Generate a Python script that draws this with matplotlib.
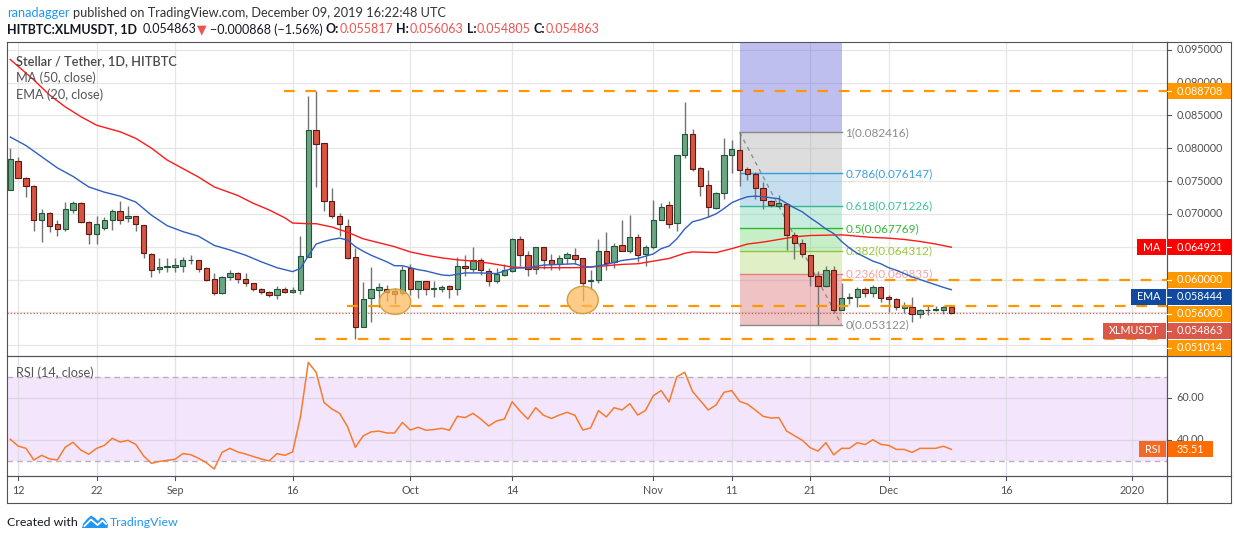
import numpy as np
import matplotlib
matplotlib.use("Agg")
import matplotlib.pyplot as plt
from matplotlib.patches import Rectangle, Ellipse, Polygon
import matplotlib.transforms as mtrans

# ------------------------------------------------------------------ data
# daily candles, Aug 11 2019 .. Dec 9 2019 (day index 0..120)
opens = [
    0.0737, 0.0781, 0.0754, 0.0743, 0.0691, 0.0702, 0.0684, 0.0677, 0.0706, 0.0717,
    0.0688, 0.0669, 0.0679, 0.0690, 0.0705, 0.0694, 0.0696, 0.0683, 0.0639, 0.0616,
    0.0619, 0.0619, 0.0621, 0.0629, 0.0629, 0.0618, 0.0601, 0.0580, 0.0604, 0.0610,
    0.0601, 0.0594, 0.0585, 0.0581, 0.0577, 0.0586, 0.0581, 0.0584, 0.0634, 0.0827,
    0.0808, 0.0720, 0.0696, 0.0682, 0.0635, 0.0528, 0.0572, 0.0584, 0.0585, 0.0583,
    0.0579, 0.0618, 0.0586, 0.0597, 0.0585, 0.0585, 0.0590, 0.0585, 0.0620, 0.0616,
    0.0630, 0.0613, 0.0597, 0.0607, 0.0613, 0.0661, 0.0638, 0.0616, 0.0650, 0.0629,
    0.0624, 0.0632, 0.0638, 0.0632, 0.0597, 0.0600, 0.0643, 0.0626, 0.0652, 0.0644,
    0.0665, 0.0639, 0.0650, 0.0691, 0.0714, 0.0686, 0.0790, 0.0822, 0.0770, 0.0744,
    0.0709, 0.0731, 0.0789, 0.0798, 0.0768, 0.0761, 0.0739, 0.0720, 0.0712, 0.0715,
    0.0668, 0.0655, 0.0638, 0.0605, 0.0590, 0.0614, 0.0554, 0.0572, 0.0573, 0.0586,
    0.0580, 0.0589, 0.0573, 0.0571, 0.0557, 0.0558, 0.0548, 0.0553, 0.0553, 0.0554,
    0.055817]
highs = [
    0.0800, 0.0786, 0.0756, 0.0744, 0.0707, 0.0703, 0.0691, 0.0718, 0.0719, 0.0718,
    0.0689, 0.0696, 0.0695, 0.0708, 0.0719, 0.0712, 0.0697, 0.0683, 0.0641, 0.0632,
    0.0633, 0.0633, 0.0635, 0.0637, 0.0629, 0.0619, 0.0610, 0.0605, 0.0615, 0.0611,
    0.0610, 0.0595, 0.0587, 0.0583, 0.0590, 0.0588, 0.0588, 0.0666, 0.0880, 0.08871,
    0.0808, 0.0739, 0.0701, 0.0692, 0.0648, 0.0596, 0.0619, 0.0594, 0.0591, 0.0587,
    0.0620, 0.0623, 0.0598, 0.0598, 0.0598, 0.0591, 0.0591, 0.0635, 0.0637, 0.0649,
    0.0632, 0.0618, 0.0617, 0.0624, 0.0663, 0.0666, 0.0643, 0.0650, 0.0650, 0.0639,
    0.0638, 0.0642, 0.0648, 0.0633, 0.0615, 0.0661, 0.0673, 0.0655, 0.0690, 0.0698,
    0.0670, 0.0652, 0.0721, 0.0716, 0.0719, 0.0790, 0.0870, 0.0829, 0.0771, 0.0767,
    0.0733, 0.0816, 0.0812, 0.0824, 0.0772, 0.0763, 0.0749, 0.0721, 0.0728, 0.0716,
    0.0672, 0.0661, 0.0638, 0.0613, 0.0621, 0.0621, 0.0594, 0.0580, 0.0588, 0.0588,
    0.0592, 0.0590, 0.0576, 0.0572, 0.0565, 0.0573, 0.0555, 0.0560, 0.0560, 0.0560,
    0.056063]
lows = [
    0.0736, 0.0754, 0.0726, 0.0674, 0.0657, 0.0672, 0.0666, 0.0674, 0.0701, 0.0686,
    0.0654, 0.0654, 0.0675, 0.0675, 0.0684, 0.0688, 0.0674, 0.0632, 0.0604, 0.0610,
    0.0611, 0.0611, 0.0611, 0.0623, 0.0611, 0.0597, 0.0576, 0.0578, 0.0600, 0.0595,
    0.0590, 0.0582, 0.0578, 0.0573, 0.0570, 0.0580, 0.0580, 0.0578, 0.0634, 0.0741,
    0.0704, 0.0694, 0.0666, 0.0631, 0.0510, 0.0537, 0.0535, 0.0558, 0.0568, 0.0563,
    0.0576, 0.0576, 0.0572, 0.0576, 0.0573, 0.0581, 0.0572, 0.0577, 0.0606, 0.0611,
    0.0607, 0.0590, 0.0595, 0.0606, 0.0612, 0.0621, 0.0606, 0.0609, 0.0616, 0.0615,
    0.0614, 0.0624, 0.0624, 0.0568, 0.0584, 0.0594, 0.0614, 0.0618, 0.0643, 0.0641,
    0.0627, 0.0620, 0.0647, 0.0690, 0.0678, 0.0674, 0.0785, 0.0765, 0.0727, 0.0695,
    0.0707, 0.0722, 0.0762, 0.0743, 0.0752, 0.0723, 0.0707, 0.0710, 0.0711, 0.0645,
    0.0631, 0.0635, 0.0590, 0.0531, 0.0589, 0.0549, 0.0553, 0.0563, 0.0558, 0.0573,
    0.0574, 0.0566, 0.0550, 0.0554, 0.0549, 0.0536, 0.0542, 0.0546, 0.0552, 0.0548,
    0.054805]
closes = [
    0.0783, 0.0755, 0.0743, 0.0691, 0.0702, 0.0682, 0.0677, 0.0707, 0.0717, 0.0688,
    0.0669, 0.0684, 0.0690, 0.0705, 0.0691, 0.0696, 0.0684, 0.0641, 0.0615, 0.0619,
    0.0620, 0.0622, 0.0630, 0.0630, 0.0616, 0.0600, 0.0580, 0.0604, 0.0610, 0.0601,
    0.0595, 0.0586, 0.0581, 0.0577, 0.0586, 0.0581, 0.0584, 0.0636, 0.0827, 0.0807,
    0.0720, 0.0697, 0.0684, 0.0633, 0.0527, 0.0571, 0.0585, 0.0588, 0.0581, 0.0578,
    0.0615, 0.0586, 0.0597, 0.0585, 0.0587, 0.0589, 0.0585, 0.0621, 0.0618, 0.0630,
    0.0614, 0.0597, 0.0608, 0.0614, 0.0661, 0.0637, 0.0616, 0.0650, 0.0630, 0.0624,
    0.0632, 0.0639, 0.0631, 0.0595, 0.0600, 0.0643, 0.0625, 0.0651, 0.0644, 0.0665,
    0.0638, 0.0650, 0.0690, 0.0711, 0.0685, 0.0790, 0.0821, 0.0769, 0.0743, 0.0710,
    0.0731, 0.0790, 0.0799, 0.0767, 0.0761, 0.0739, 0.0721, 0.0713, 0.0716, 0.0668,
    0.0655, 0.0639, 0.0605, 0.0590, 0.0614, 0.0554, 0.0572, 0.0574, 0.0586, 0.0580,
    0.0589, 0.0572, 0.0571, 0.0558, 0.0559, 0.0547, 0.0554, 0.0554, 0.0555, 0.0558,
    0.054863]

# MA(50) (day index, value)
ma_days = [0, 3, 5, 7, 9, 11, 14, 16, 18, 20, 22, 24, 26, 29, 31, 33, 35, 36, 38, 39,
           41, 43, 45, 47, 49, 51, 53, 55, 57, 59, 61, 62, 64, 66, 72, 74, 76, 78, 80, 82,
           84, 86, 87, 90, 92, 94, 96, 98, 100, 102, 106, 108, 110, 112, 114, 116, 118, 120]
ma_vals = [0.0935, 0.0904, 0.0881, 0.0863, 0.0848, 0.0835, 0.0825, 0.0815, 0.0800, 0.0782,
           0.0769, 0.0756, 0.0741, 0.0728, 0.0716, 0.0706, 0.0694, 0.0686, 0.0685, 0.0685,
           0.0680, 0.0672, 0.0662, 0.0656, 0.0650, 0.0642, 0.0637, 0.0633, 0.0630, 0.0628,
           0.0625, 0.0623, 0.0619, 0.0618, 0.0618, 0.0619, 0.0621, 0.0623, 0.0624, 0.0628,
           0.0632, 0.0640, 0.0642, 0.0641, 0.0647, 0.0654, 0.0657, 0.0661, 0.0665, 0.0667,
           0.0668, 0.0666, 0.0664, 0.0663, 0.0661, 0.0658, 0.0654, 0.064921]

# EMA(20) (day index, value)
ema_days = [0, 2, 4, 6, 8, 10, 12, 14, 16, 17, 18, 20, 22, 24, 26, 28, 30, 32, 34, 36,
            37, 38, 39, 40, 41, 42, 43, 44, 45, 46, 47, 48, 49, 50, 51, 52, 53, 54, 55, 56,
            57, 58, 60, 62, 64, 66, 68, 70, 72, 73, 74, 76, 78, 80, 82, 83, 84, 85, 86, 87,
            88, 89, 90, 91, 92, 93, 94, 95, 96, 98, 99, 100, 101, 102, 103, 104, 105, 106,
            107, 108, 109, 110, 111, 112, 113, 114, 115, 116, 117, 118, 119, 120]
ema_vals = [0.0817, 0.0804, 0.0787, 0.0770, 0.0757, 0.0741, 0.0733, 0.0727, 0.0718, 0.0708,
            0.0698, 0.0682, 0.0673, 0.0666, 0.0652, 0.0645, 0.0637, 0.0627, 0.0618, 0.0612,
            0.0617, 0.0636, 0.0654, 0.0658, 0.0661, 0.0663, 0.0660, 0.0650, 0.0643, 0.0637,
            0.0632, 0.0627, 0.0621, 0.0621, 0.0618, 0.0615, 0.0613, 0.0610, 0.0607, 0.0606,
            0.0608, 0.0610, 0.0610, 0.0609, 0.0617, 0.0618, 0.0622, 0.0623, 0.0624, 0.0620,
            0.0619, 0.0623, 0.0629, 0.0632, 0.0639, 0.0647, 0.0651, 0.0662, 0.0677, 0.0688,
            0.0691, 0.0695, 0.0700, 0.0708, 0.0717, 0.0722, 0.0726, 0.0727, 0.0726, 0.0723,
            0.0716, 0.0709, 0.0703, 0.0694, 0.0686, 0.0677, 0.0670, 0.0658, 0.0648, 0.0640,
            0.0634, 0.0628, 0.0624, 0.0618, 0.0614, 0.0609, 0.0604, 0.0600, 0.0596, 0.0592,
            0.0588, 0.058444]

# RSI(14), one value per day
rsi_vals = [
    40.3, 37.1, 36.0, 30.5, 32.7, 31.0, 30.5, 36.5, 38.9, 35.2,
    33.2, 36.0, 37.4, 40.8, 39.0, 39.8, 37.9, 32.4, 28.9, 29.8,
    30.3, 30.8, 33.5, 33.0, 31.3, 29.2, 26.2, 34.1, 36.0, 34.3,
    33.3, 32.1, 31.0, 30.0, 33.5, 32.7, 34.3, 51.0, 76.8, 72.1,
    57.8, 54.7, 52.6, 46.3, 36.5, 41.9, 43.8, 44.2, 43.3, 43.3,
    48.3, 44.7, 46.0, 44.6, 44.9, 45.5, 44.6, 51.2, 50.6, 52.6,
    49.9, 46.6, 49.0, 49.9, 58.1, 53.7, 49.9, 55.3, 51.7, 50.2,
    51.8, 53.1, 51.7, 44.7, 45.7, 53.9, 50.9, 55.3, 54.2, 57.2,
    51.8, 54.0, 61.0, 63.4, 58.0, 70.0, 72.1, 63.0, 58.6, 54.2,
    56.6, 62.6, 63.4, 58.3, 57.0, 54.2, 51.2, 50.4, 50.6, 44.2,
    42.0, 39.8, 36.3, 34.7, 38.7, 32.9, 36.0, 36.0, 38.7, 37.8,
    40.1, 37.9, 37.4, 35.5, 35.5, 34.1, 36.0, 36.0, 36.0, 37.0,
    35.51]

tick_days = [1, 11, 21, 36, 51, 64, 82, 92, 102, 112, 127, 143]
tick_labels = ['12', '22', 'Sep', '16', 'Oct', '14', 'Nov', '11', '21', 'Dec', '16', '2020']
price_ticks = [0.050, 0.055, 0.060, 0.065, 0.070, 0.075, 0.080, 0.085, 0.090, 0.095]
price_tick_labels = ['0.050000', '0.055000', '0.060000', '0.065000', '0.070000',
                     '0.075000', '0.080000', '0.085000', '0.090000', '0.095000']
rsi_ticks = [40, 60]
rsi_tick_labels = ['40.00', '60.00']

# horizontal support / resistance lines (value, first day)
level_vals = [0.088708, 0.060000, 0.056000, 0.051014]
level_start = [34.9, 106.0, 42.9, 38.9]

# Fibonacci retracement
fib_start, fib_end = 93, 106
fib_ratios = [1, 0.786, 0.618, 0.5, 0.382, 0.236, 0]
fib_prices = [0.082416, 0.076147, 0.071226, 0.067769, 0.064312, 0.060835, 0.053122]

# highlighted bottoms (day, price, width in days, height)
circle_days = [49.06, 73.0]
circle_prices = [0.05662, 0.05688]
circle_w = [4.0, 3.95]
circle_h = [0.00386, 0.00416]

last_price = 0.054863
last_rsi = 35.51

# ------------------------------------------------------------------ layout
W, H = 1234, 540
plt.rcParams['font.family'] = ['Lato', 'DejaVu Sans']
fig = plt.figure(figsize=(W / 100, H / 100), dpi=100)
fig.patch.set_facecolor('white')
renderer = fig.canvas.get_renderer()

PX0, PX1, AXR = 7, 1167, 1231
P_TOP, P_BOT, R_BOT, T_BOT = 42, 356, 476, 503
DAY0_PX, DAY_PX = 10.3, 7.842
PPX = 6566.0           # pixels per price unit
P_AT_TOP = 0.095 + (49.7 - P_TOP) / PPX
P_AT_BOT = 0.095 - (P_BOT - 49.7) / PPX
RPX = 2.1075            # pixels per RSI unit
R_AT_TOP = 70 + (376.7 - P_BOT) / RPX
R_AT_BOT = 30 - (R_BOT - 461.0) / RPX
XL = (PX0 - DAY0_PX) / DAY_PX
XR = (PX1 - DAY0_PX) / DAY_PX

BORDER = '#50535e'
GRID = '#e6e6e6'
TXT = '#4f4f4f'


def rect(l, t, r, b):
    return [l / W, 1 - b / H, (r - l) / W, (b - t) / H]


def measure(text, size, weight='normal'):
    t = fig.text(0, 0, text, fontsize=size, fontweight=weight)
    w = t.get_window_extent(renderer).width
    t.remove()
    return w


def fit(text, target, weight='normal'):
    return 10 * target / measure(text, 10, weight)


ax = fig.add_axes(rect(PX0, P_TOP, PX1, P_BOT))
axr = fig.add_axes(rect(PX1, P_TOP, AXR, P_BOT))
rs = fig.add_axes(rect(PX0, P_BOT, PX1, R_BOT))
rsr = fig.add_axes(rect(PX1, P_BOT, AXR, R_BOT))
ta = fig.add_axes(rect(PX0, R_BOT, PX1, T_BOT))
tar = fig.add_axes(rect(PX1, R_BOT, AXR, T_BOT))

for a in (ax, axr, rs, rsr, ta, tar):
    a.set_xticks([])
    a.set_yticks([])
    for s in a.spines.values():
        s.set_color(BORDER)
        s.set_linewidth(0.8)
    a.set_facecolor('none')

ax.set_xlim(XL, XR)
ax.set_ylim(P_AT_BOT, P_AT_TOP)
axr.set_xlim(0, 1)
axr.set_ylim(P_AT_BOT, P_AT_TOP)
rs.set_xlim(XL, XR)
rs.set_ylim(R_AT_BOT, R_AT_TOP)
rsr.set_xlim(0, 1)
rsr.set_ylim(R_AT_BOT, R_AT_TOP)
ta.set_xlim(XL, XR)
ta.set_ylim(0, 1)

tick_fs = fit('0.095000', 46)
legend_fs = fit('Stellar / Tether, 1D, HITBTC', 159)
fib_fs = fit('0.786(0.076147)', 87)

# ------------------------------------------------------------------ grid
for p in price_ticks:
    ax.axhline(p, color=GRID, lw=0.9, zorder=0)
for d in tick_days:
    ax.axvline(d, color=GRID, lw=0.9, zorder=0)
    rs.axvline(d, color='#e2dde6', lw=0.9, zorder=0.5)

# ------------------------------------------------------------------ fib
fib_fill = ['#6161d9', '#aaaaaa', '#70b1de', '#75d4b1', '#75d975', '#b6d975', '#d96b6b']
fib_line = ['#8a8a8a', '#2f9de0', '#35b992', '#2eb82e', '#8cc63f', '#e58080', '#8a8a8a']
fib_text = ['#8c8c8c', '#3d9fe0', '#3cc59b', '#35b935', '#98c83c', '#f0a4a4', '#8c8c8c']
fw = fib_end - fib_start
ax.add_patch(Rectangle((fib_start, fib_prices[0]), fw, P_AT_TOP - fib_prices[0],
                       fc=fib_fill[0], alpha=0.4, ec='none', zorder=1))
for i in range(len(fib_prices) - 1):
    ax.add_patch(Rectangle((fib_start, fib_prices[i + 1]), fw, fib_prices[i] - fib_prices[i + 1],
                           fc=fib_fill[i + 1], alpha=0.4, ec='none', zorder=1))
for i, (r, p) in enumerate(zip(fib_ratios, fib_prices)):
    ax.plot([fib_start, fib_end], [p, p], color=fib_line[i], lw=1.0, zorder=1.5)
    ax.text(fib_end + 0.5, p, f'{r:g}({p:.6f})', color=fib_text[i], fontsize=fib_fs,
            va='center', ha='left', zorder=2)
ax.plot([fib_start, fib_end], [fib_prices[0], fib_prices[-1]], color='#909090', lw=1.0,
        ls=(0, (3, 3)), zorder=1.6)

# ------------------------------------------------------------------ price line
ax.axhline(last_price, color='#d9584a', lw=0.9, ls=(0, (1, 1.6)), zorder=2)

# ------------------------------------------------------------------ candles
days = np.arange(len(opens))
o = np.array(opens)
c = np.array(closes)
up = c >= o
ax.vlines(days, lows, highs, color='#737375', lw=1.0, zorder=3)
for d in days:
    lo = min(o[d], c[d])
    hgt = max(abs(c[d] - o[d]), 0.00012)
    if up[d]:
        fc, ec = '#6ba583', '#225437'
    else:
        fc, ec = '#d75442', '#5b1a13'
    ax.add_patch(Rectangle((d - 0.34, lo), 0.68, hgt, fc=fc, ec=ec, lw=0.8, zorder=4))

# ------------------------------------------------------------------ MA / EMA
ax.plot(ma_days, ma_vals, color='#ff1a1a', lw=1.0, zorder=5)
ax.plot(ema_days, ema_vals, color='#2f5fbf', lw=1.0, zorder=5)

# ------------------------------------------------------------------ levels
for v, s in zip(level_vals, level_start):
    ax.plot([s, XR], [v, v], color='#ff9800', lw=1.6, ls=(0, (4.8, 4.8)), zorder=6,
            solid_capstyle='butt', dash_capstyle='butt')

# ------------------------------------------------------------------ circles
for d, p, w_, h_ in zip(circle_days, circle_prices, circle_w, circle_h):
    ax.add_patch(Ellipse((d, p), w_, h_, fc=(1.0, 0.72, 0.36, 0.72), ec='#cfa23a',
                         lw=1.0, zorder=7))

# ------------------------------------------------------------------ legends
ax.text(8.7 / 1160, 1 - (61 - P_TOP) / 314, 'Stellar / Tether, 1D, HITBTC', transform=ax.transAxes,
        fontsize=legend_fs, color='#4a4a4a', fontweight='semibold', va='center', ha='left', zorder=9)
ax.text(8.7 / 1160, 1 - (77.7 - P_TOP) / 314, 'MA (50, close)', transform=ax.transAxes,
        fontsize=legend_fs, color='#555555', va='center', ha='left', zorder=9)
ax.text(8.7 / 1160, 1 - (94.3 - P_TOP) / 314, 'EMA (20, close)', transform=ax.transAxes,
        fontsize=legend_fs, color='#555555', va='center', ha='left', zorder=9)

# ------------------------------------------------------------------ right price scale
for p, lab in zip(price_ticks, price_tick_labels):
    axr.plot([0, 0.06], [p, p], color=BORDER, lw=0.8, zorder=1)
    axr.text(0.15, p, lab, fontsize=tick_fs, color=TXT, va='center', ha='left', zorder=1)

labels = [
    (0.088708, '#ff9800', None),
    (0.064921, '#ff0000', 'MA'),
    (0.060000, '#ff9800', None),
    (0.058444, '#0f4aa0', 'EMA'),
    (0.056000, '#ff9800', None),
    (last_price, '#d9584a', 'XLMUSDT'),
    (0.051014, '#ff9800', None),
]
ypx = []
prev = -1e9
for p, col, name in sorted(labels, key=lambda t: -t[0]):
    y = P_TOP + (P_AT_TOP - p) / (P_AT_TOP - P_AT_BOT) * (P_BOT - P_TOP)
    y = max(y, prev + 17)
    prev = y
    ypx.append((p, col, name, y))

hh = 8 / PPX
blend_ax = mtrans.blended_transform_factory(ax.transAxes, ax.transData)
for p, col, name, y in ypx:
    yc = P_AT_TOP - (y - P_TOP) / PPX
    axr.add_patch(Rectangle((0.015, yc - hh), 0.985, 2 * hh, fc=col, ec='none', zorder=5))
    axr.text(0.15, yc, f'{p:.6f}', fontsize=tick_fs, color='white', va='center', ha='left', zorder=6)
    axr.plot([0, 0.06], [yc, yc], color='white', lw=0.8, zorder=6)
    if name:
        wpx = measure(name, tick_fs) + 12
        x0 = 1 - (wpx + 1) / 1160
        ax.add_patch(Rectangle((x0, yc - hh), wpx / 1160, 2 * hh, transform=blend_ax,
                               fc=col, ec='none', zorder=10, clip_on=False))
        ax.text(1 - (7) / 1160, yc, name, transform=blend_ax, fontsize=tick_fs, color='white',
                va='center', ha='right', zorder=11)

# ------------------------------------------------------------------ RSI pane
rs.axhspan(30, 70, color='#f3e6fc', zorder=0, lw=0)
for v in rsi_ticks:
    rs.axhline(v, color='#ddd3e6', lw=0.9, zorder=0.6)
for v in (30, 70):
    rs.axhline(v, color='#b9b0c0', lw=1.0, ls=(0, (4, 3)), zorder=0.7)
rs.plot(days, rsi_vals, color='#f77b2f', lw=1.1, zorder=3)
rs.text(8.7 / 1160, 1 - (373 - P_BOT) / 120, 'RSI (14, close)', transform=rs.transAxes,
        fontsize=legend_fs, color='#555555', va='center', ha='left', zorder=5)
for v, lab in zip(rsi_ticks, rsi_tick_labels):
    rsr.plot([0, 0.06], [v, v], color=BORDER, lw=0.8)
    rsr.text(0.15, v, lab, fontsize=tick_fs, color=TXT, va='center', ha='left')
rh = 8 / RPX
rsr.add_patch(Rectangle((0.015, last_rsi - rh), 0.70, 2 * rh, fc='#ff6d00', ec='none', zorder=5))
rsr.text(0.15, last_rsi, f'{last_rsi:.2f}', fontsize=tick_fs, color='white', va='center', ha='left', zorder=6)
blend_rs = mtrans.blended_transform_factory(rs.transAxes, rs.transData)
wpx = measure('RSI', tick_fs) + 12
rs.add_patch(Rectangle((1 - (wpx + 1) / 1160, last_rsi - rh), wpx / 1160, 2 * rh, transform=blend_rs,
                       fc='#f26a24', ec='none', zorder=10, clip_on=False))
rs.text(1 - 7 / 1160, last_rsi, 'RSI', transform=blend_rs, fontsize=tick_fs, color='white',
        va='center', ha='right', zorder=11)

# ------------------------------------------------------------------ time axis
for d, lab in zip(tick_days, tick_labels):
    ta.plot([d, d], [1, 1 - 4 / 27], color=BORDER, lw=0.8)
    ta.text(d, 1 - (491 - R_BOT) / 27, lab, fontsize=tick_fs, color=TXT, ha='center', va='center')

# ------------------------------------------------------------------ header
hdr_fs = fit('ranadagger published on TradingView.com, December 09, 2019 16:22:48 UTC', 440)


def draw_seq(x, y, parts, size):
    for s, col, wt, gap in parts:
        t = fig.text(x / W, 1 - y / H, s, color=col, fontsize=size, fontweight=wt,
                     va='center', ha='left')
        x += t.get_window_extent(renderer).width + gap * size / 0.72
    return x


sp = 0.27
draw_seq(7, 13.3, [('ranadagger', '#2196f3', 'normal', sp),
                   ('published on TradingView.com, December 09, 2019 16:22:48 UTC', '#333333', 'normal', 0)],
         hdr_fs)
DK, RD = '#131722', '#ef5350'
line2 = [('HITBTC:XLMUSDT, 1D', DK, 'bold', sp * 1.6),
         ('0.054863', DK, 'normal', 0.02),
         ('▼', RD, 'normal', sp),
         ('−0.000868 (−1.56%)', DK, 'normal', sp),
         ('O:', DK, 'bold', 0.02), ('0.055817', RD, 'normal', sp),
         ('H:', DK, 'bold', 0.02), ('0.056063', RD, 'normal', sp),
         ('L:', DK, 'bold', 0.02), ('0.054805', RD, 'normal', sp),
         ('C:', DK, 'bold', 0.02), ('0.054863', RD, 'normal', 0)]
tot = sum(measure(s, hdr_fs, wt) + g * hdr_fs / 0.72 for s, _, wt, g in line2)
draw_seq(7, 29.3, line2, hdr_fs * 592 / tot)

# ------------------------------------------------------------------ footer
ft_fs = fit('Created with', 71)
fig.text(7 / W, 1 - 522.5 / H, 'Created with', fontsize=ft_fs, color='#131722', va='center', ha='left')
fig.text(110 / W, 1 - 522.5 / H, 'TradingView', fontsize=ft_fs, color='#2196f3', va='center', ha='left')
logo = [(82, 528), (83, 524), (87, 519), (91, 515.5), (95, 518), (98, 521), (101, 517.5),
        (104, 518.5), (106.5, 522), (108, 525), (107.5, 528)]
fig.patches.append(Polygon([(x / W, 1 - y / H) for x, y in logo], closed=True,
                           transform=fig.transFigure, fc='#2196f3', ec='none'))
zz = [(84.5, 526), (91, 519.5), (97.5, 525), (102.5, 520.5), (106, 524)]
fig.lines.append(matplotlib.lines.Line2D([x / W for x, _ in zz], [1 - y / H for _, y in zz],
                                         transform=fig.transFigure, color='white', lw=1.3))

fig.savefig('out.png', dpi=100, facecolor='white')
